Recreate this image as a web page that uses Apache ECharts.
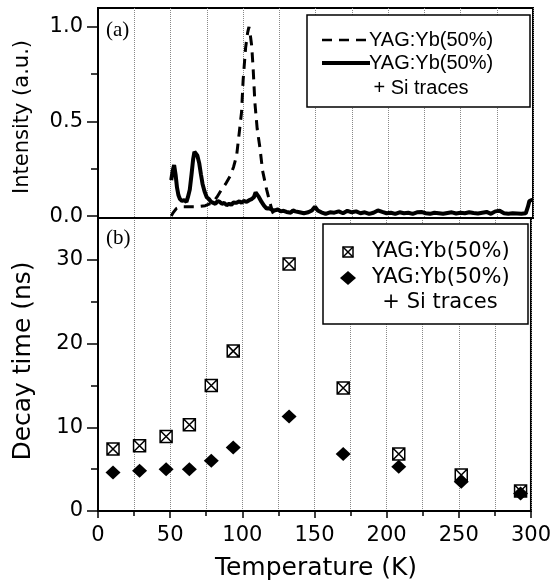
<!DOCTYPE html>
<html>
<head>
<meta charset="utf-8">
<script src="https://cdn.jsdelivr.net/npm/echarts@6/dist/echarts.min.js"></script>
<style>
html, body { margin: 0; padding: 0; background: #fff; }
#chart { width: 554px; height: 584px; }
</style>
</head>
<body>
<div id="chart"></div>
<script>
// axis ticks
const intensityTicks = [0, 0.5, 1.0]
const intensityMinor = [0.25, 0.75]
const decayTicks = [0, 10, 20, 30]
const decayMinor = [5, 15, 25]

// (a) normalised intensity vs temperature  [T (K), I]
const pureYag = [
  [50.5, 0], [52, 0.02], [54, 0.04], [57, 0.05], [62, 0.05], [68, 0.05], [74, 0.055],
  [79, 0.07], [82, 0.1], [85.2, 0.14], [88, 0.17], [91, 0.21], [93.5, 0.26], [95.6, 0.32],
  [97.4, 0.44], [99, 0.55], [100.1, 0.72], [101.8, 0.89], [103.2, 0.97], [104.1, 1.0],
  [105, 0.96], [106, 0.9], [107, 0.78], [108.2, 0.6], [109.8, 0.46], [111.7, 0.36],
  [113.5, 0.24], [116.3, 0.14], [118.6, 0.07], [120.5, 0.02], [122, 0]
]
const siTraces = [
  [50.5, 0.19], [51.5, 0.24], [52.5, 0.27], [53.5, 0.22], [54.5, 0.15], [55.5, 0.11],
  [56.5, 0.09], [58, 0.08], [59.5, 0.085], [61, 0.075], [62, 0.1], [63.3, 0.14],
  [64.5, 0.22], [65.6, 0.3], [66.5, 0.34], [67.5, 0.35], [68.5, 0.32], [69.8, 0.28],
  [71, 0.22], [72.1, 0.17], [73.5, 0.13], [75, 0.1], [76.5, 0.09], [78, 0.075],
  [79.5, 0.07], [81, 0.065], [82.5, 0.08], [84, 0.075], [85.5, 0.065], [87, 0.07],
  [88.7, 0.058], [90.5, 0.065], [92, 0.06], [93.5, 0.072], [95.6, 0.07], [97.5, 0.078],
  [99, 0.07], [100.5, 0.08], [102.5, 0.075], [104.5, 0.085], [106, 0.09], [107.5, 0.1],
  [108.7, 0.125], [109.8, 0.135], [111, 0.1], [112.8, 0.075], [114.5, 0.055], [116.3, 0.04],
  [118, 0.042], [120, 0.033], [122, 0.03], [124, 0.035], [126, 0.025], [128, 0.028],
  [130, 0.022], [133, 0.018], [134.5, 0.03], [136, 0.025], [139, 0.02], [142, 0.015],
  [145, 0.02], [147.5, 0.03], [149.6, 0.05], [151.5, 0.03], [154, 0.02], [157, 0.012],
  [160, 0.02], [163, 0.018], [166, 0.025], [169, 0.015], [172, 0.028], [175, 0.02],
  [178, 0.025], [181, 0.015], [184, 0.02], [187, 0.012], [190, 0.018], [193, 0.03],
  [196, 0.022], [199, 0.015], [202, 0.018], [205, 0.012], [208, 0.02], [211, 0.015],
  [214, 0.018], [217, 0.012], [220, 0.02], [223, 0.022], [226, 0.015], [229, 0.012],
  [232, 0.018], [235, 0.015], [238, 0.012], [241, 0.016], [244, 0.02], [247, 0.014],
  [250, 0.018], [253, 0.015], [256, 0.02], [259, 0.016], [262, 0.014], [265, 0.018],
  [268, 0.022], [271, 0.012], [274, 0.025], [277, 0.028], [280, 0.015], [283, 0.012],
  [286, 0.015], [289, 0.014], [292, 0.013], [295, 0.015], [296.5, 0.05], [297.5, 0.08],
  [299, 0.085], [300, 0.085]
]

// (b) decay time vs temperature
const decayTemps = [10.4, 28.8, 47.2, 63.3, 78.5, 93.7, 132.4, 169.9, 208.4, 251.7, 292.8]
const decayPure = [7.4, 7.8, 8.9, 10.3, 15.0, 19.1, 29.5, 14.7, 6.8, 4.3, 2.4]
const decaySi = [4.6, 4.8, 5.0, 5.0, 6.0, 7.6, 11.3, 6.8, 5.3, 3.5, 2.1]

const boxSymbol = 'path://M0 0L10 0L10 10L0 10Z M0 0L10 10 M10 0L0 10'
const black = '#000'
const dotted = { type: 'dotted', color: '#888', width: 1 }
const sans = 'DejaVu Sans'

const chart = echarts.init(document.getElementById('chart'))

function txt(text, x, y, size, opts = {}) {
  return {
    type: 'text',
    x: x,
    y: y,
    rotation: opts.rotation || 0,
    z: 100,
    style: {
      text: text,
      fontFamily: opts.family || sans,
      fontSize: size,
      fill: black,
      align: opts.align || 'left',
      verticalAlign: 'middle',
      textAlign: opts.align || 'left',
      textVerticalAlign: 'middle'
    }
  }
}

function seg(x1, y1, x2, y2, width, dash) {
  return {
    type: 'line', z: 95,
    shape: { x1: x1, y1: y1, x2: x2, y2: y2 },
    style: { stroke: black, lineWidth: width, lineDash: dash || null }
  }
}

const xAxisBase = {
  type: 'value',
  min: 0,
  max: 300,
  interval: 50,
  axisLine: { onZero: false, lineStyle: { color: black, width: 2 } },
  splitLine: { show: true, lineStyle: dotted },
  minorSplitLine: { show: true, lineStyle: dotted }
}

const options = {
  animation: false,
  grid: [
    { left: 98, right: 21, top: 8, height: 210, show: true, borderColor: black, borderWidth: 2 },
    { left: 98, right: 21, top: 218, height: 293, show: true, borderColor: black, borderWidth: 2 }
  ],
  xAxis: [
    Object.assign({}, xAxisBase, {
      gridIndex: 0,
      axisTick: { show: false },
      minorTick: { show: false, splitNumber: 2 },
      axisLabel: { show: false }
    }),
    Object.assign({}, xAxisBase, {
      gridIndex: 1,
      axisTick: { length: 7, lineStyle: { color: black, width: 1.5 } },
      minorTick: { show: true, splitNumber: 2, length: 5, lineStyle: { color: black, width: 1.5 } },
      axisLabel: { fontFamily: sans, fontSize: 21, color: black, margin: 14 }
    })
  ],
  yAxis: [
    {
      type: 'value', gridIndex: 0, position: 'left', min: -0.01, max: 1.1,
      axisLine: { show: true, onZero: false, lineStyle: { color: black, width: 2 } },
      axisTick: { customValues: intensityTicks, length: 11, lineStyle: { color: black, width: 1.5 } },
      axisLabel: {
        customValues: intensityTicks, formatter: v => v.toFixed(1),
        fontFamily: sans, fontSize: 21, color: black, margin: 15
      },
      splitLine: { show: false }
    },
    {
      type: 'value', gridIndex: 0, position: 'left', min: -0.01, max: 1.1,
      axisLine: { show: false, onZero: false },
      axisTick: { customValues: intensityMinor, length: 7, lineStyle: { color: black, width: 1.5 } },
      axisLabel: { show: false },
      splitLine: { show: false }
    },
    {
      type: 'value', gridIndex: 1, position: 'left', min: 0, max: 35,
      axisLine: { show: true, onZero: false, lineStyle: { color: black, width: 2 } },
      axisTick: { customValues: decayTicks, length: 11, lineStyle: { color: black, width: 1.5 } },
      axisLabel: {
        customValues: decayTicks,
        fontFamily: sans, fontSize: 21, color: black, margin: 15
      },
      splitLine: { show: false }
    },
    {
      type: 'value', gridIndex: 1, position: 'left', min: 0, max: 35,
      axisLine: { show: false, onZero: false },
      axisTick: { customValues: decayMinor, length: 7, lineStyle: { color: black, width: 1.5 } },
      axisLabel: { show: false },
      splitLine: { show: false }
    }
  ],
  series: [
    {
      name: 'YAG:Yb(50%)',
      type: 'line',
      xAxisIndex: 0, yAxisIndex: 0,
      data: pureYag,
      showSymbol: false,
      lineStyle: { color: black, width: 3, type: [10, 7] }
    },
    {
      name: 'YAG:Yb(50%) + Si traces',
      type: 'line',
      xAxisIndex: 0, yAxisIndex: 0,
      data: siTraces,
      showSymbol: false,
      lineStyle: { color: black, width: 4 }
    },
    {
      name: 'YAG:Yb(50%) decay',
      type: 'scatter',
      xAxisIndex: 1, yAxisIndex: 2,
      data: decayTemps.map((t, i) => [t, decayPure[i]]),
      symbol: boxSymbol,
      symbolSize: 12,
      itemStyle: { color: '#fff', borderColor: black, borderWidth: 1.5, opacity: 1 }
    },
    {
      name: 'YAG:Yb(50%) + Si traces decay',
      type: 'scatter',
      xAxisIndex: 1, yAxisIndex: 2,
      data: decayTemps.map((t, i) => [t, decaySi[i]]),
      symbol: 'diamond',
      symbolSize: [15, 14],
      itemStyle: { color: black, opacity: 1 }
    }
  ],
  graphic: [
    // axis titles
    txt('Intensity (a.u.)', 23, 117, 21, { align: 'center', rotation: Math.PI / 2 }),
    txt('Decay time (ns)', 23, 361, 25, { align: 'center', rotation: Math.PI / 2 }),
    txt('Temperature (K)', 316, 568, 25, { align: 'center' }),
    // panel labels
    txt('(a)', 106, 30, 21, { family: 'Liberation Serif' }),
    txt('(b)', 106, 238, 21, { family: 'Liberation Serif' }),
    // legend (a)
    {
      type: 'rect', z: 90,
      shape: { x: 307, y: 15, width: 223, height: 92 },
      style: { fill: '#fff', stroke: black, lineWidth: 1.5 }
    },
    seg(322, 40, 368, 40, 2.5, [10, 7]),
    seg(322, 63, 370, 63, 4),
    txt('YAG:Yb(50%)', 369, 40, 20, { family: 'Liberation Sans' }),
    txt('YAG:Yb(50%)', 369, 63, 20, { family: 'Liberation Sans' }),
    txt('+ Si traces', 421, 88, 20, { family: 'Liberation Sans', align: 'center' }),
    // legend (b)
    {
      type: 'rect', z: 90,
      shape: { x: 323, y: 224, width: 205, height: 100 },
      style: { fill: '#fff', stroke: black, lineWidth: 1.5 }
    },
    {
      type: 'rect', z: 95,
      shape: { x: 343, y: 247, width: 10, height: 10 },
      style: { fill: '#fff', stroke: black, lineWidth: 1.5 }
    },
    seg(343, 247, 353, 257, 1.5),
    seg(353, 247, 343, 257, 1.5),
    {
      type: 'polygon', z: 95,
      shape: { points: [[348, 271], [356, 278], [348, 285], [340, 278]] },
      style: { fill: black }
    },
    txt('YAG:Yb(50%)', 372, 252, 21),
    txt('YAG:Yb(50%)', 372, 278, 21),
    txt('+ Si traces', 440, 303, 21, { align: 'center' })
  ]
}

chart.setOption(options)
</script>
</body>
</html>
